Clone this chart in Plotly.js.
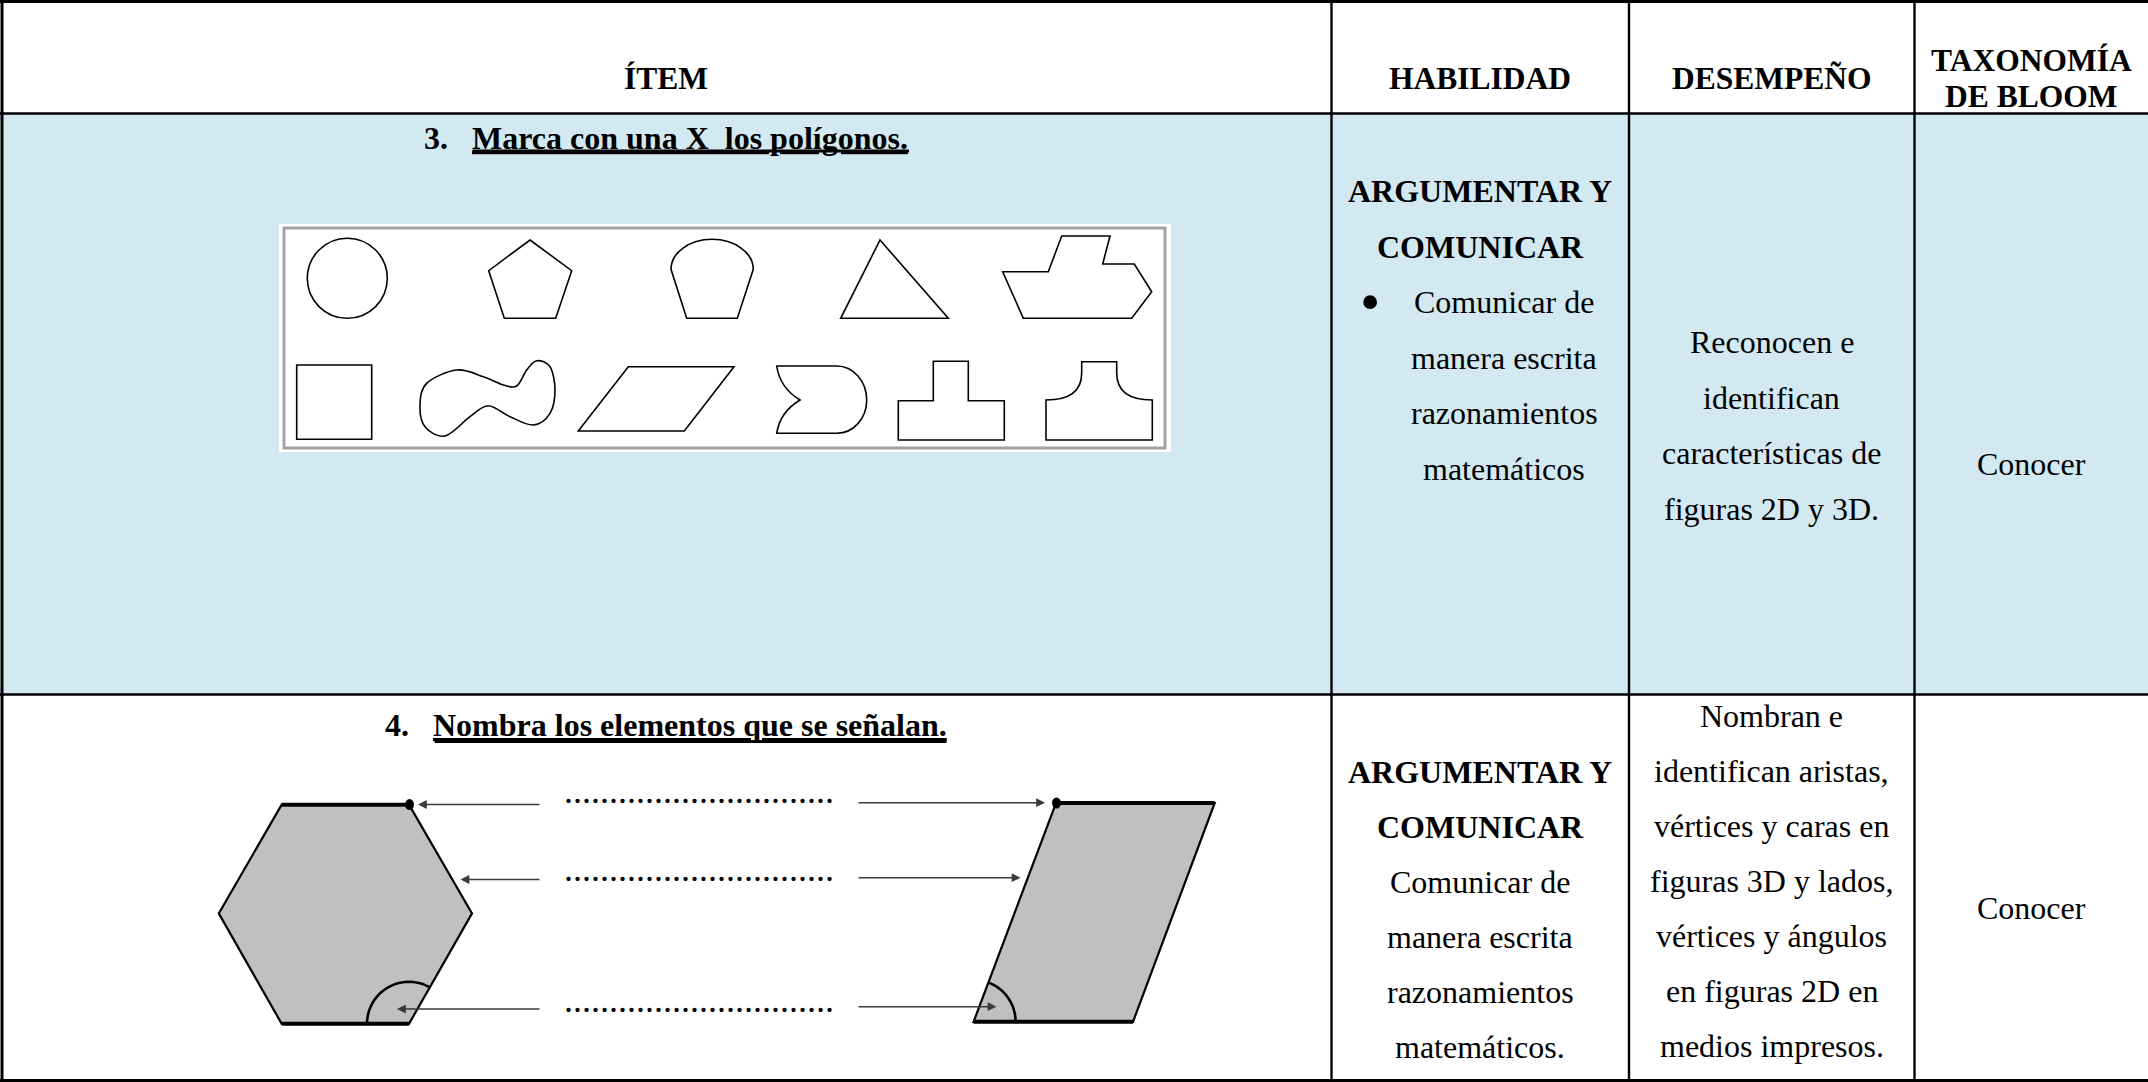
<!DOCTYPE html>
<html><head><meta charset="utf-8">
<script src="https://cdn.plot.ly/plotly-3.0.1.min.js"></script>
<style>html,body{margin:0;padding:0;background:#fff;overflow:hidden}</style>
</head><body><div id="chart" style="width:2148px;height:1082px"></div>
<script>
// ---------- table content ----------
const headerLabels = ["ÍTEM", "HABILIDAD", "DESEMPEÑO", "TAXONOMÍA", "DE BLOOM"];
const itemTitles = ["3.&nbsp;&nbsp;&nbsp;<u>Marca con una X&nbsp; los polígonos.</u>",
                    "4.&nbsp;&nbsp;&nbsp;<u>Nombra los elementos que se señalan.</u>"];
const habilidad1 = ["<b>ARGUMENTAR Y</b>", "<b>COMUNICAR</b>", "Comunicar de", "manera escrita", "razonamientos", "matemáticos"];
const desempeno1 = ["Reconocen e", "identifican", "características de", "figuras 2D y 3D."];
const habilidad2 = ["<b>ARGUMENTAR Y</b>", "<b>COMUNICAR</b>", "Comunicar de", "manera escrita", "razonamientos", "matemáticos."];
const desempeno2 = ["Nombran e", "identifican aristas,", "vértices y caras en", "figuras 3D y lados,", "vértices y ángulos", "en figuras 2D en", "medios impresos."];
const taxonomia = ["Conocer", "Conocer"];
const blankLine = "..............................";
const bulletMark = "•";

// ---------- drawing geometry (item 3 figures) ----------
const circleFig = [347.3, 278.3, 40];
const pentagonFig = [[530,240],[571.7,270.7],[555.7,318.3],[504.3,318.3],[488.7,270.7]];
const triangleFig = [[880,240],[948.3,318.3],[840.7,318.3]];
const shipFig = [[1002.7,271.7],[1048.3,271.7],[1061.7,236],[1110,236],[1102.7,264],[1134.3,264],[1151.7,291.7],[1131.7,318.3],[1023.3,318.3]];
const squareFig = [[296.7,365],[371.7,365],[371.7,439.3],[296.7,439.3]];
const rhomboidFig = [[628.3,366.7],[734,366.7],[684.3,431],[578.3,431]];
const tFig = [[898.3,400.7],[933.3,400.7],[933.3,361.3],[968.3,361.3],[968.3,400.7],[1004.3,400.7],[1004.3,440],[898.3,440]];
const blobFig = [[420,405],[426.7,383.3],[456.7,370],[483.3,376.7],[503.3,385],[516.7,386],[526.7,370],[536.7,360.7],[550,366.7],[555,390],[550,413.3],[533.3,425],[510,416.7],[488.3,405.7],[470,416.7],[445,436],[425,426.7]];
// ---------- drawing geometry (item 4 figures) ----------
const hexagonFig = [[281.7,804.7],[409,804.7],[472,913.4],[409,1023.8],[281.7,1023.8],[218.8,913.4]];
const parallelFig = [[1056,803],[1214.7,803],[1133,1021.8],[973.6,1021.8]];
const angleArcs = [[409,1023.8,42,60,180],[973.6,1021.8,42,0,69.4]]; // cx, cy, r, from deg, to deg
const vertexDots = [[409.5,804.6],[1056.5,803]];
const leftArrowHeads = [418, 460.5, 397];
const leftArrowY = [804.5, 879.5, 1009];
const rightArrowHeads = [1045, 1020.5, 996.5];
const rightArrowY = [802.7, 877.7, 1006.7];
const blankY = [803, 881, 1012];
const underlineSpans = [[472.6, 909, 151], [434.7, 946.4, 741.5]];

// ---------- layout constants ----------
const W = 2148, H = 1082;
const colX = [0, 1331.5, 1629, 1914.5, W];
const rowY = [1.5, 113.5, 694.5, 1080.5];
const SERIF = "Liberation Serif, Times New Roman, serif";
const BLUE = "#d3e9f1";

function cx(i){ return (colX[i] + colX[i+1]) / 2; }
function polyPath(pts){ return "M" + pts.map(p => p[0] + "," + p[1]).join("L") + "Z"; }
function smoothClosed(pts){
  const n = pts.length; let d = "M" + pts[0][0] + "," + pts[0][1];
  for (let i = 0; i < n; i++){
    const p0 = pts[(i-1+n)%n], p1 = pts[i], p2 = pts[(i+1)%n], p3 = pts[(i+2)%n];
    const c1 = [p1[0] + (p2[0]-p0[0])/6, p1[1] + (p2[1]-p0[1])/6];
    const c2 = [p2[0] - (p3[0]-p1[0])/6, p2[1] - (p3[1]-p1[1])/6];
    d += "C" + c1.join(",") + " " + c2.join(",") + " " + p2.join(",");
  }
  return d + "Z";
}
function arcPath(a){
  const [x, y, r, t0, t1] = a; let d = "";
  for (let k = 0; k <= 30; k++){
    const t = (t0 + (t1 - t0) * k / 30) * Math.PI / 180;
    d += (k ? "L" : "M") + (x + r*Math.cos(t)).toFixed(2) + "," + (y - r*Math.sin(t)).toFixed(2);
  }
  return d;
}

const shapes = [];
const P = (path, opts) => shapes.push(Object.assign({type:"path", xref:"x", yref:"y", path:path, line:{color:"#000", width:1.6}}, opts||{}));

// backgrounds
shapes.push({type:"rect", xref:"x", yref:"y", x0:0, x1:W, y0:rowY[1], y1:rowY[2], fillcolor:BLUE, line:{width:0}, layer:"below"});
shapes.push({type:"rect", xref:"x", yref:"y", x0:279, x1:1171, y0:224, y1:452, fillcolor:"#fff", line:{width:0}, layer:"below"});
shapes.push({type:"rect", xref:"x", yref:"y", x0:284, x1:1165, y0:228, y1:448, line:{color:"#a2a2a2", width:3}, layer:"below"});

// item 3 figures
shapes.push({type:"circle", xref:"x", yref:"y", x0:circleFig[0]-circleFig[2], x1:circleFig[0]+circleFig[2], y0:circleFig[1]-circleFig[2], y1:circleFig[1]+circleFig[2], line:{color:"#000", width:1.6}});
[pentagonFig, triangleFig, shipFig, squareFig, rhomboidFig, tFig].forEach(f => P(polyPath(f)));
P(smoothClosed(blobFig));
// dome
P("M686.7,318.3 L671,269.3 C671,252.7 689.4,239.3 712,239.3 C734.6,239.3 753.3,252.7 753.3,269.3 L737.3,318.3 Z");
// pac shape
P("M776.7,366 L836.7,366 C853.3,366 866.7,381.4 866.7,400 C866.7,418.6 853.3,433.3 836.7,433.3 L776.7,433.3 Q780,412 800,400 Q780,388 776.7,366 Z");
// bell shape
P("M1046,440 L1046,400 Q1081.7,400 1081.7,373 L1081.7,361.7 L1116.7,361.7 L1116.7,373 Q1116.7,400 1152.3,400 L1152.3,440 Z");

// item 4 figures
P(polyPath(hexagonFig), {fillcolor:"#c0c0c0", line:{color:"#000", width:2.2}});
P(polyPath(parallelFig), {fillcolor:"#c0c0c0", line:{color:"#000", width:2.2}});
[[hexagonFig[0], hexagonFig[1]], [hexagonFig[4], hexagonFig[3]], [parallelFig[0], parallelFig[1]], [parallelFig[3], parallelFig[2]]].forEach(e =>
  P("M" + e[0].join(",") + "L" + e[1].join(","), {line:{color:"#000", width:4}}));
angleArcs.forEach(a => P(arcPath(a), {line:{color:"#000", width:2.6}}));
vertexDots.forEach(d => shapes.push({type:"circle", xref:"x", yref:"y", x0:d[0]-4.5, x1:d[0]+4.5, y0:d[1]-5.5, y1:d[1]+5.5, fillcolor:"#000", line:{width:0}}));

// heavier underline of the item titles
underlineSpans.forEach(u => shapes.push({type:"line", xref:"x", yref:"y", x0:u[0], x1:u[1], y0:u[2], y1:u[2], line:{color:"#000", width:3.2}}));

// table grid
[1,2].forEach(i => shapes.push({type:"line", xref:"x", yref:"y", x0:0, x1:W, y0:rowY[i], y1:rowY[i], line:{color:"#000", width:2.6}}));
[1,2,3].forEach(i => shapes.push({type:"line", xref:"x", yref:"y", x0:colX[i], x1:colX[i], y0:rowY[0], y1:rowY[3], line:{color:"#000", width:2.4}}));
shapes.push({type:"line", xref:"x", yref:"y", x0:0, x1:W, y0:rowY[0], y1:rowY[0], line:{color:"#000", width:3}});
shapes.push({type:"line", xref:"x", yref:"y", x0:0, x1:W, y0:rowY[3], y1:rowY[3], line:{color:"#000", width:3}});
shapes.push({type:"line", xref:"x", yref:"y", x0:2, x1:2, y0:rowY[0], y1:rowY[3], line:{color:"#000", width:3}});

// ---------- annotations ----------
const ann = [];
const T = (x, y, text, size, opts) => ann.push(Object.assign({x:x, y:y, xref:"x", yref:"y", text:text, showarrow:false,
  xanchor:"center", yanchor:"middle", font:{family:SERIF, size:size, color:"#000"}}, opts||{}));

T(cx(0), 78, "<b>" + headerLabels[0] + "</b>", 31.5);
T(cx(1), 78, "<b>" + headerLabels[1] + "</b>", 31.5);
T(cx(2), 78, "<b>" + headerLabels[2] + "</b>", 31.5);
T(cx(3), 60, "<b>" + headerLabels[3] + "</b>", 31.5);
T(cx(3), 96, "<b>" + headerLabels[4] + "</b>", 31.5);

T(cx(0), 138, "<b>" + itemTitles[0] + "</b>", 32);
T(cx(0), 725, "<b>" + itemTitles[1] + "</b>", 32);

habilidad1.forEach((t, i) => T(i < 2 ? cx(1) : 1504, 191 + i * 55.6, t, 32));
T(1370, 191 + 2 * 55.6 - 1, bulletMark, 58);
desempeno1.forEach((t, i) => T(cx(2), 342 + i * 55.5, t, 32));
T(cx(3), 464, taxonomia[0], 32);

habilidad2.forEach((t, i) => T(cx(1), 771.7 + i * 55, t, 32));
desempeno2.forEach((t, i) => T(cx(2), 715.5 + i * 55, t, 32));
T(cx(3), 908, taxonomia[1], 32);

blankY.forEach(y => T(699, y + 9.5, blankLine, 36, {yanchor:"bottom"}));

const arrowStyle = {xref:"x", yref:"y", axref:"x", ayref:"y", showarrow:true, text:"", arrowhead:2, arrowsize:1.1, arrowwidth:1.6, arrowcolor:"#3a3a3a", standoff:0};
leftArrowHeads.forEach((h, i) => ann.push(Object.assign({x:h, y:leftArrowY[i], ax:541, ay:leftArrowY[i]}, arrowStyle)));
rightArrowHeads.forEach((h, i) => ann.push(Object.assign({x:h, y:rightArrowY[i], ax:857, ay:rightArrowY[i]}, arrowStyle)));

const layout = {
  width: W, height: H, margin: {l:0, r:0, t:0, b:0, pad:0},
  paper_bgcolor: "#fff", plot_bgcolor: "#fff", showlegend: false,
  xaxis: {range:[0, W], visible:false, fixedrange:true},
  yaxis: {range:[H, 0], visible:false, fixedrange:true},
  shapes: shapes, annotations: ann
};
Plotly.newPlot("chart", [{x:[], y:[], type:"scatter", mode:"lines", hoverinfo:"skip"}], layout, {displayModeBar:false, staticPlot:true});
</script></body></html>
